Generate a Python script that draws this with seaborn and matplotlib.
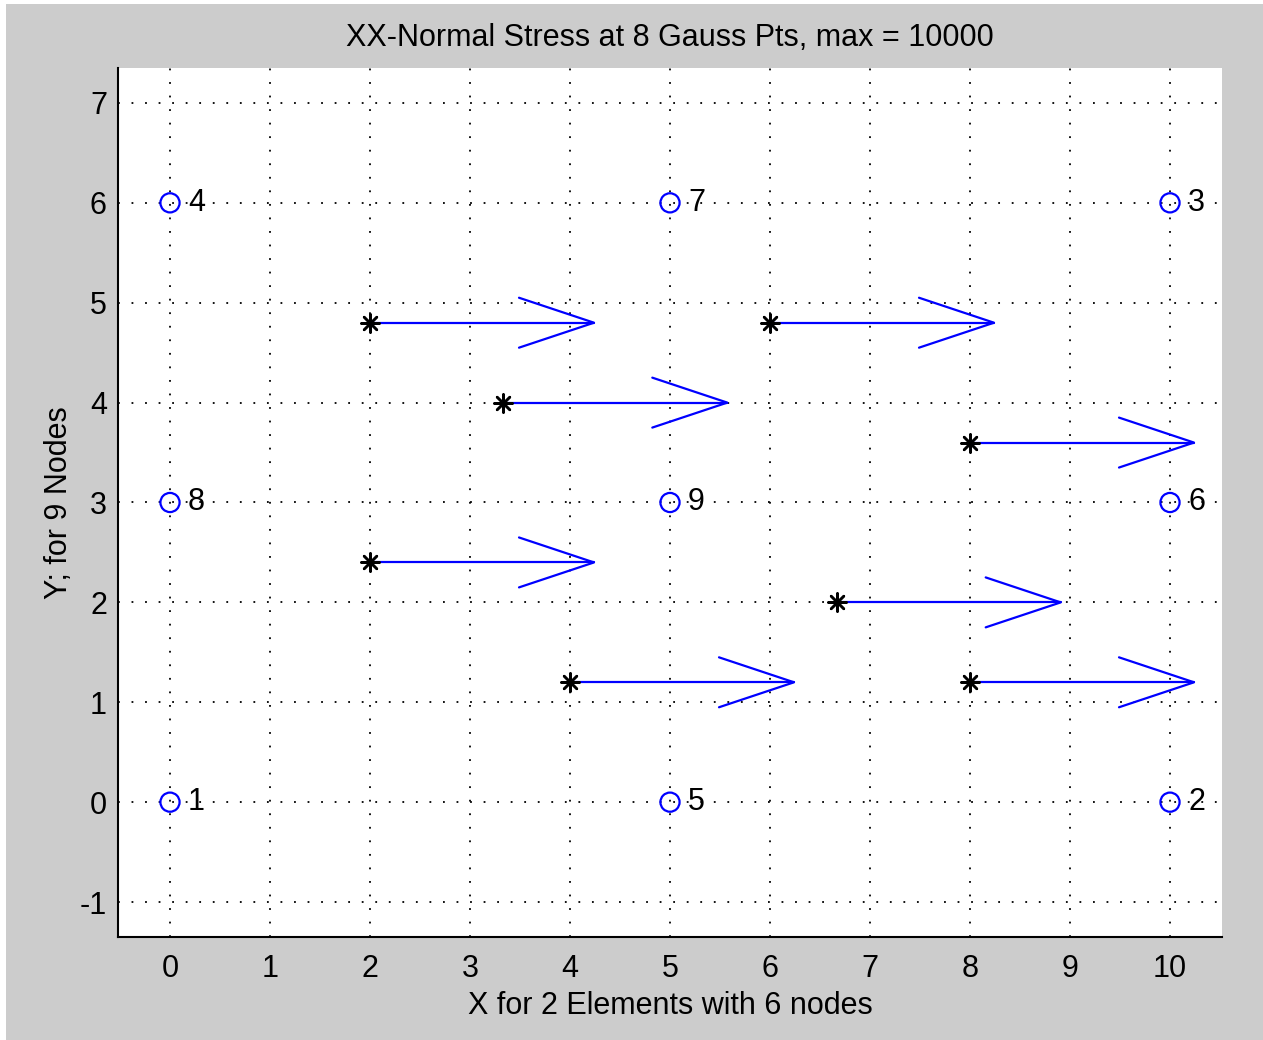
import matplotlib
matplotlib.use("Agg")
import matplotlib.pyplot as plt
import seaborn as sns
import numpy as np
import pandas as pd
from matplotlib.patches import Rectangle

# ---- data ----
node_ids = ["1", "2", "3", "4", "5", "6", "7", "8", "9"]
node_x = [0, 10, 10, 0, 5, 10, 5, 0, 5]
node_y = [0, 0, 6, 6, 0, 3, 6, 3, 3]

gauss_x = [2.0, 6.0, 3.333, 8.0, 2.0, 6.667, 4.0, 8.0]
gauss_y = [4.8, 4.8, 4.0, 3.6, 2.4, 2.0, 1.2, 1.2]
stress_xx = [10000, 10000, 10000, 10000, 10000, 10000, 10000, 10000]
stress_max = 10000
arrow_len = 2.24       # plotted length of max stress
head_len = 0.75
head_half = 0.25

x_ticks = list(range(0, 11))
y_ticks = list(range(-1, 8))

title = "XX-Normal Stress at 8 Gauss Pts, max = 10000"
xlabel = "X for 2 Elements with 6 nodes"
ylabel = "Y; for 9 Nodes"

# ---- style ----
sns.set_style("white")
plt.rcParams["font.family"] = ["Liberation Sans", "DejaVu Sans"]
plt.rcParams["axes.unicode_minus"] = False
FS = 22

fig = plt.figure(figsize=(12.63, 10.40), dpi=100)
fig.patch.set_facecolor("white")
fig.patches.append(Rectangle((6 / 1263, 0), 1, 1 - 4 / 1040, transform=fig.transFigure,
                             facecolor="#cccccc", edgecolor="none", zorder=-5))
ax = fig.add_axes([118 / 1263, 103 / 1040, (1222 - 118) / 1263, (937 - 68) / 1040])
ax.set_facecolor("white")

nodes = pd.DataFrame({"x": node_x, "y": node_y, "id": node_ids})
gauss = pd.DataFrame({"x": gauss_x, "y": gauss_y, "s": stress_xx})

sns.scatterplot(data=nodes, x="x", y="y", ax=ax, marker="o", s=190,
                facecolor="none", edgecolor="#0000ff", linewidth=1.6, zorder=3)
for _, r in nodes.iterrows():
    ax.text(r.x + 0.18, r.y, r.id, ha="left", va="center", fontsize=FS, color="black", zorder=4)

# arrows
for _, r in gauss.iterrows():
    L = arrow_len * r.s / stress_max
    tip = r.x + L
    ax.plot([r.x, tip], [r.y, r.y], color="#0000ff", lw=1.6, zorder=2)
    ax.plot([tip - head_len, tip, tip - head_len],
            [r.y + head_half, r.y, r.y - head_half], color="#0000ff", lw=1.6, zorder=2)

sns.scatterplot(data=gauss, x="x", y="y", ax=ax, marker=(8, 2, 0), s=170,
                color="black", edgecolor="black", linewidth=1.8, zorder=4)

ax.set_xlim(-0.52, 10.52)
ax.set_ylim(-1.35, 7.35)
ax.set_xticks(x_ticks)
ax.set_yticks(y_ticks)
ax.grid(True, color="black", linestyle=(0, (1, 6.5)), linewidth=1.3)
ax.set_axisbelow(True)
for s in ["top", "right"]:
    ax.spines[s].set_visible(False)
for s in ["left", "bottom"]:
    ax.spines[s].set_color("black")
    ax.spines[s].set_linewidth(1.5)
ax.tick_params(direction="in", length=9, width=1.3, colors="black", labelsize=FS)
ax.tick_params(axis="x", pad=12)
ax.tick_params(axis="y", pad=8)

ax.set_title(title, fontsize=FS, pad=16, color="black")
ax.set_xlabel(xlabel, fontsize=FS, labelpad=5, color="black")
ax.set_ylabel(ylabel, fontsize=FS, labelpad=4, color="black")

fig.savefig("out.png", dpi=100, facecolor=fig.get_facecolor())
